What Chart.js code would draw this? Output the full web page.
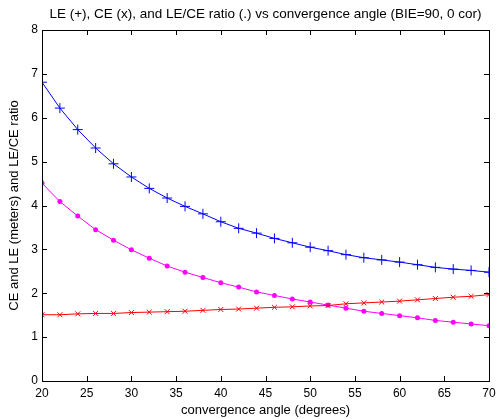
<!DOCTYPE html>
<html><head><meta charset="utf-8">
<script src="https://cdn.jsdelivr.net/npm/chart.js@4/dist/chart.umd.min.js"></script>
<style>html,body{margin:0;padding:0;background:#fff}#wrap{width:497px;height:419px}</style>
</head><body><div id="wrap"><canvas id="c" width="497" height="419"></canvas></div>
<script>
const angles = [20,22,24,26,28,30,32,34,36,38,40,42,44,46,48,50,52,54,56,58,60,62,64,66,68,70];
const leValues = [6.81,6.22,5.73,5.31,4.95,4.65,4.39,4.17,3.98,3.81,3.63,3.48,3.37,3.25,3.15,3.05,2.97,2.88,2.81,2.76,2.71,2.65,2.59,2.55,2.52,2.48];
const ceValues = [1.51,1.51,1.53,1.54,1.54,1.56,1.57,1.58,1.59,1.61,1.63,1.64,1.66,1.68,1.69,1.71,1.72,1.76,1.78,1.80,1.82,1.85,1.88,1.91,1.93,1.97];
const ratioValues = [4.51,4.09,3.76,3.45,3.21,2.99,2.80,2.62,2.48,2.36,2.24,2.14,2.03,1.95,1.87,1.80,1.73,1.66,1.59,1.54,1.49,1.44,1.38,1.34,1.30,1.26];
const xTicks = [20,25,30,35,40,45,50,55,60,65,70];
const yTicks = [0,1,2,3,4,5,6,7,8];
const titleText = 'LE (+), CE (x), and LE/CE ratio (.) vs convergence angle (BIE=90, 0 cor)';

const pts = v => angles.map((a,i)=>({x:a,y:v[i]}));
const FONT = "'Liberation Sans', Arial, sans-serif";

const boxPlugin = {
  id:'box',
  afterDraw(chart){
    const {ctx, chartArea:a, scales:{x,y}} = chart;
    ctx.save();
    ctx.strokeStyle='#000'; ctx.lineWidth=1;
    ctx.strokeRect(Math.round(a.left)+0.5, Math.round(a.top)+0.5, Math.round(a.right-a.left), Math.round(a.bottom-a.top));
    const L=5;
    ctx.beginPath();
    xTicks.forEach(t=>{const px=Math.round(x.getPixelForValue(t))+0.5;
      ctx.moveTo(px,a.bottom); ctx.lineTo(px,a.bottom-L);
      ctx.moveTo(px,a.top); ctx.lineTo(px,a.top+L);});
    yTicks.forEach(t=>{const py=Math.round(y.getPixelForValue(t))+0.5;
      ctx.moveTo(a.left,py); ctx.lineTo(a.left+L,py);
      ctx.moveTo(a.right,py); ctx.lineTo(a.right-L,py);});
    ctx.stroke();
    // title centred over the plot area
    ctx.fillStyle='#000';
    ctx.font = "13.5px " + FONT;
    ctx.textAlign='center'; ctx.textBaseline='middle';
    ctx.fillText(titleText, (a.left+a.right)/2, 14);
    ctx.restore();
  }
};

new Chart(document.getElementById('c'),{
  type:'line',
  data:{datasets:[
    {label:'LE',data:pts(leValues),borderColor:'#0000ff',backgroundColor:'#0000ff',borderWidth:1,pointStyle:'cross',pointRadius:5,pointBorderWidth:1,tension:0},
    {label:'CE',data:pts(ceValues),borderColor:'#ff0000',backgroundColor:'#ff0000',borderWidth:1,pointStyle:'crossRot',pointRadius:3.5,pointBorderWidth:1,tension:0},
    {label:'LE/CE',data:pts(ratioValues),borderColor:'#ff00ff',backgroundColor:'#ff00ff',borderWidth:1,pointStyle:'circle',pointRadius:2.5,pointBorderWidth:0,tension:0}
  ]},
  options:{
    responsive:false,animation:false,
    layout:{padding:{left:0,right:8,top:30,bottom:0}},
    plugins:{legend:{display:false},tooltip:{enabled:false},title:{display:false}},
    scales:{
      x:{type:'linear',min:20,max:70,
        afterBuildTicks(s){s.ticks=xTicks.map(v=>({value:v}));},
        afterFit(s){s.height=38;s.paddingLeft=0;s.paddingRight=0;},
        grid:{display:false,drawTicks:false},border:{display:false},
        ticks:{color:'#000',font:{family:FONT,size:12},padding:5,maxRotation:0},
        title:{display:true,text:'convergence angle (degrees)',color:'#000',font:{family:FONT,size:13},padding:{top:0,bottom:1}}},
      y:{type:'linear',min:0,max:8,
        afterBuildTicks(s){s.ticks=yTicks.map(v=>({value:v}));},
        afterFit(s){s.width=42;s.paddingTop=0;s.paddingBottom=0;},
        grid:{display:false,drawTicks:false},border:{display:false},
        ticks:{color:'#000',font:{family:FONT,size:12},padding:4},
        title:{display:true,text:'CE and LE (meters) and LE/CE ratio',color:'#000',font:{family:FONT,size:13},padding:{top:7,bottom:0}}}
    }
  },
  plugins:[boxPlugin]
});
</script></body></html>
